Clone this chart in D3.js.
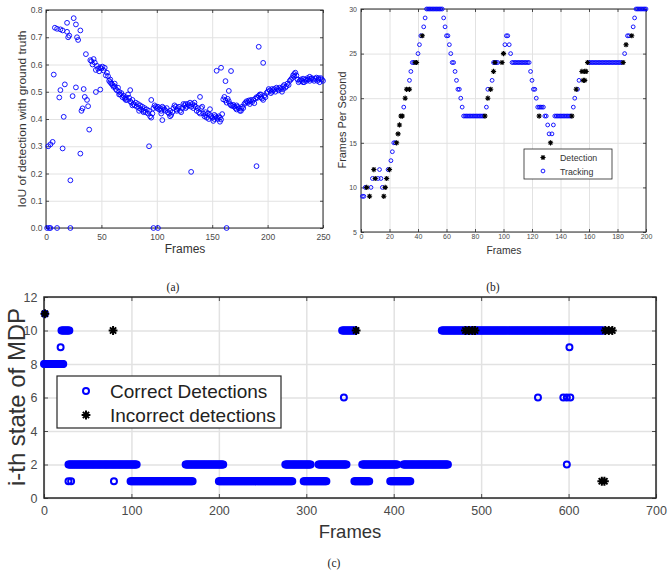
<!DOCTYPE html>
<html>
<head>
<meta charset="utf-8">
<script src="https://cdn.jsdelivr.net/npm/d3@7"></script>
<style>
  body { margin: 0; background: #fff; }
</style>
</head>
<body>
<svg id="fig" width="668" height="572"></svg>
<script>
// ---- (a) IoU of detection with ground truth ----
var iouTicksX = [0, 50, 100, 150, 200, 250];
var iouTicksY = [0, 0.1, 0.2, 0.3, 0.4, 0.5, 0.6, 0.7, 0.8];
var iouTrackStart = 40; // first frame of the main track
var iouTrack = [
  .616,.612,.600,.620,.607,.580,.595,.585,.575,.590,
  .585,.592,.578,.588,.560,.570,.557,.540,.535,.530,
  .525,.518,.530,.510,.505,.515,.500,.490,.495,.480,
  .485,.475,.480,.470,.490,.478,.465,.460,.470,.455,
  .450,.460,.445,.455,.440,.450,.435,.445,.430,.440,
  .425,.435,.420,.430,.410,.405,.420,.440,.450,.445,
  .440,.445,.435,.440,.430,.445,.440,.435,.430,.440,
  .425,.420,.410,.415,.425,.440,.450,.445,.435,.440,
  .445,.430,.425,.440,.455,.450,.440,.445,.455,.450,
  .460,.445,.455,.440,.450,.445,.430,.440,.425,.420,
  .440,.445,.420,.410,.415,.405,.420,.400,.415,.410,
  .405,.393,.400,.410,.405,.400,.410,.405,.398,.418,
  .472,.481,.468,.460,.474,.465,.455,.450,.448,.452,
  .445,.440,.435,.445,.440,.430,.438,.445,.440,.455,
  .460,.465,.460,.468,.465,.470,.462,.470,.458,.475,
  .480,.478,.485,.490,.480,.475,.470,.485,.480,.495,
  .500,.510,.505,.495,.510,.505,.510,.500,.515,.510,
  .505,.515,.510,.500,.520,.525,.515,.520,.530,.525,
  .540,.545,.550,.560,.565,.570,.560,.545,.535,.540,
  .545,.540,.548,.535,.545,.540,.550,.545,.540,.548,
  .550,.545,.540,.548,.552,.540,.545,.535,.550,.545,
  .540
];
// [frame, iou] points off the main track
var iouOther = [
  [1,0],[3,0],[4,0],[10,0],[22,0],[97,0],[101,0],[163,0],
  [2,.30],[4,.307],[6,.316],[7,.563],[8,.735],[10,.731],[13,.729],[15,.725],
  [12,.479],[13,.506],[16,.408],[15,.292],[17,.527],[19,.753],[19,.72],[20,.70],
  [21,.706],[22,.175],[24,.484],[25,.77],[27,.747],[28,.70],[29,.69],[31,.725],
  [27,.516],[31,.273],[32,.43],[33,.439],[34,.51],[35,.481],[37,.47],[38,.447],
  [39,.361],[36,.638],[45,.499],[49,.508],[76,.506],[93,.30],[95,.47],[105,.396],
  [131,.206],[139,.481],[148,.436],[154,.577],[158,.588],[162,.539],[165,.503],
  [167,.576],[190,.227],[192,.665],[196,.606],
  [58,.545],[62,.52],[66,.49],[72,.47],[78,.45],[84,.43],[88,.425],[104,.42],
  [112,.43],[118,.43],[126,.455],[134,.46],[144,.425],[152,.415],[157,.39],
  [172,.45],[176,.43],[184,.455],[194,.49],[204,.50],[214,.51],[224,.555],
  [232,.535],[238,.555],[246,.55]
];

// ---- (b) Frames per second ----
var fpsTicksX = [0, 20, 40, 60, 80, 100, 120, 140, 160, 180, 200];
var fpsTicksY = [5, 10, 15, 20, 25, 30];
// solid runs of tracking points: [firstFrame, lastFrame, fps]
var trackRuns = [[46,57,30],[72,86,18],[106,118,24],[124,128,19],[136,147,18],[160,183,24],[193,200,30]];
var trackPoints = [
  [1,9],[2,9],[3,10],[7,10],[8,11],[12,11],[13,12],[14,11],[15,10],[19,12],[21,13],
  [22,14],[23,15],[24,15],[30,19],[34,22],[35,23],[36,24],[37,24],[40,25],[41,26],
  [42,27],[44,28],[45,29],[58,29],[59,28],[60,27],[61,27],[62,26],[63,25],[64,24],
  [65,24],[66,23],[67,22],[68,21],[69,21],[70,20],[71,19],[88,19],[89,21],[92,22],
  [93,24],[94,24],[95,24],[96,24],[101,26],[102,27],[103,27],[104,26],[105,25],
  [119,23],[120,22],[121,21],[122,21],[123,20],[129,18],[130,18],[131,17],[132,16],
  [134,16],[135,17],[149,19],[150,20],[152,21],[153,22],[185,25],[187,27],[188,27],
  [191,28],[192,29]
];
var detPoints = [
  [4,10],[6,9],[9,12],[10,11],[16,9],[17,10],[18,11],[20,12],[25,15],[26,16],[27,17],
  [28,18],[29,18],[31,20],[32,21],[34,21],[38,24],[39,24],[43,27],[87,18],[89,20],
  [91,21],[93,23],[94,24],[99,24],[100,25],[125,18],[133,15],[148,18],[151,21],
  [155,23],[156,22],[157,22],[157,23],[158,23],[159,24],[184,24],[186,26],[190,27]
];

// ---- (c) i-th state of MDP ----
var mdpTicksX = [0, 100, 200, 300, 400, 500, 600, 700];
var mdpTicksY = [0, 2, 4, 6, 8, 10, 12];
// solid runs of correct detections: [firstFrame, lastFrame, state]
var correctRuns = [
  [0,22,8],[20,29,10],[28,106,2],[99,170,1],[162,205,2],[200,284,1],[276,305,2],
  [297,323,1],[314,346,2],[341,356,10],[355,372,1],[364,404,2],[396,419,1],
  [411,462,2],[455,640,10]
];
var correctPoints = [[1,11],[19,9],[28,1],[31,1],[80,1],[343,6],[565,6],[594,6],[598,6],[602,6],[601,9],[598,2]];
var incorrectPoints = [[1,11],[79,10],[357,10],[482,10],[486,10],[490,10],[493,10],[638,1],[641,1],[642,10],[646,10],[650,10]];

var svg = d3.select("#fig");
var FONT = "'Liberation Sans', Arial, Helvetica, sans-serif";

function expandRuns(runs) {
  var pts = [];
  runs.forEach(function(r) {
    d3.range(r[0], r[1] + 1).forEach(function(f) { pts.push([f, r[2]]); });
  });
  return pts;
}

function asterisk(s) {
  var k = s * 0.707;
  return "M" + (-s) + ",0L" + s + ",0M0," + (-s) + "L0," + s +
    "M" + (-k) + "," + (-k) + "L" + k + "," + k + "M" + (-k) + "," + k + "L" + k + "," + (-k);
}

function drawAxes(p) {
  var x0 = p.x.range()[0], x1 = p.x.range()[1];
  var y0 = p.y.range()[0], y1 = p.y.range()[1];
  var w = x1 - x0, h = y0 - y1;

  // grid
  var grid = svg.append("g");
  grid.append("g").attr("transform", `translate(0,${y0})`)
    .call(d3.axisBottom(p.x).tickValues(p.xTicks).tickSize(-h).tickFormat(""));
  grid.append("g").attr("transform", `translate(${x0},0)`)
    .call(d3.axisLeft(p.y).tickValues(p.yTicks).tickSize(-w).tickFormat(""));
  grid.selectAll(".domain").remove();
  grid.selectAll("line").attr("stroke", "#e2e2e2").attr("stroke-width", p.gridW);

  // ticks on all four sides, pointing inward
  var t = svg.append("g");
  t.append("g").attr("transform", `translate(0,${y0})`)
    .call(d3.axisBottom(p.x).tickValues(p.xTicks).tickSizeInner(-p.tick).tickSizeOuter(0).tickPadding(p.xPad));
  t.append("g").attr("transform", `translate(0,${y1})`)
    .call(d3.axisTop(p.x).tickValues(p.xTicks).tickSizeInner(-p.tick).tickSizeOuter(0).tickFormat(""));
  t.append("g").attr("transform", `translate(${x0},0)`)
    .call(d3.axisLeft(p.y).tickValues(p.yTicks).tickSizeInner(-p.tick).tickSizeOuter(0).tickPadding(p.yPad));
  t.append("g").attr("transform", `translate(${x1},0)`)
    .call(d3.axisRight(p.y).tickValues(p.yTicks).tickSizeInner(-p.tick).tickSizeOuter(0).tickFormat(""));
  t.selectAll(".domain").remove();
  t.selectAll("line").attr("stroke", "#262626").attr("stroke-width", 0.8);
  t.selectAll("text").attr("font-family", FONT).attr("font-size", p.tickFont).attr("fill", "#4a4a4a");
  t.selectAll("g").attr("font-family", null).attr("font-size", null);

  svg.append("rect")
    .attr("x", x0).attr("y", y1).attr("width", w).attr("height", h)
    .attr("fill", "none").attr("stroke", "#262626").attr("stroke-width", p.boxW);
}

function label(txt, x, y, size, rot, len) {
  var el = svg.append("text")
    .attr("transform", `translate(${x},${y})` + (rot ? " rotate(-90)" : ""))
    .attr("text-anchor", "middle")
    .attr("font-family", FONT).attr("font-size", size).attr("fill", "#333")
    .text(txt);
  if (len) el.attr("textLength", len).attr("lengthAdjust", "spacingAndGlyphs");
  return el;
}

function caption(txt, x, y) {
  svg.append("text").attr("x", x).attr("y", y).attr("text-anchor", "middle")
    .attr("font-family", "'Liberation Serif', 'Times New Roman', serif")
    .attr("font-size", 11.5).attr("fill", "#222").text(txt);
}

// ---------- panel (a) ----------
var xa = d3.scaleLinear().domain([0, 250]).range([46, 323]);
var ya = d3.scaleLinear().domain([0, 0.8]).range([228, 10]);
drawAxes({ x: xa, y: ya, xTicks: iouTicksX, yTicks: iouTicksY, tick: 3, xPad: 6, yPad: 3.5,
  tickFont: 8.5, gridW: 1, boxW: 1 });

var iouPts = iouTrack.map(function(v, i) { return [iouTrackStart + i, v]; }).concat(iouOther);
svg.append("g").selectAll("circle").data(iouPts).join("circle")
  .attr("cx", d => xa(d[0])).attr("cy", d => ya(d[1])).attr("r", 2.4)
  .attr("fill", "none").attr("stroke", "#0000ff").attr("stroke-width", 0.9);

label("Frames", 185, 253, 12);
label("IoU of detection with ground truth", 26, 119, 11, true, 177);
caption("(a)", 173, 291);

// ---------- panel (b) ----------
var xb = d3.scaleLinear().domain([0, 200]).range([361, 646]);
var yb = d3.scaleLinear().domain([5, 30]).range([232, 9]);
drawAxes({ x: xb, y: yb, xTicks: fpsTicksX, yTicks: fpsTicksY, tick: 3, xPad: 1.8, yPad: 4,
  tickFont: 7, gridW: 1, boxW: 1 });

var trackAll = expandRuns(trackRuns).concat(trackPoints);
svg.append("g").selectAll("circle").data(trackAll).join("circle")
  .attr("cx", d => xb(d[0])).attr("cy", d => yb(d[1])).attr("r", 1.9)
  .attr("fill", "none").attr("stroke", "#0000ff").attr("stroke-width", 0.9);
svg.append("g").selectAll("path").data(detPoints).join("path")
  .attr("transform", d => `translate(${xb(d[0])},${yb(d[1])})`)
  .attr("d", asterisk(2.6)).attr("stroke", "#000").attr("stroke-width", 1.1).attr("fill", "none");

// legend (b)
svg.append("rect").attr("x", 524).attr("y", 149).attr("width", 88).attr("height", 30)
  .attr("fill", "#fff").attr("stroke", "#262626").attr("stroke-width", 0.8);
svg.append("path").attr("transform", "translate(543,157.5)").attr("d", asterisk(2.6))
  .attr("stroke", "#000").attr("stroke-width", 1.1);
svg.append("circle").attr("cx", 543).attr("cy", 171).attr("r", 1.9)
  .attr("fill", "none").attr("stroke", "#0000ff").attr("stroke-width", 0.9);
svg.append("text").attr("x", 560).attr("y", 160.5).attr("font-family", FONT).attr("font-size", 8.8)
  .attr("fill", "#333").text("Detection");
svg.append("text").attr("x", 560).attr("y", 174.5).attr("font-family", FONT).attr("font-size", 8.8)
  .attr("fill", "#333").text("Tracking");

label("Frames", 504, 254, 10.3);
label("Frames Per Second", 346, 120, 10.5, true, 97);
caption("(b)", 493, 291);

// ---------- panel (c) ----------
var xc = d3.scaleLinear().domain([0, 700]).range([44, 656]);
var yc = d3.scaleLinear().domain([0, 12]).range([498, 297]);
drawAxes({ x: xc, y: yc, xTicks: mdpTicksX, yTicks: mdpTicksY, tick: 4, xPad: 8.5, yPad: 6.5,
  tickFont: 12.5, gridW: 1.5, boxW: 1.5 });

var correctAll = expandRuns(correctRuns).concat(correctPoints);
svg.append("g").selectAll("circle").data(correctAll).join("circle")
  .attr("cx", d => xc(d[0])).attr("cy", d => yc(d[1])).attr("r", 3)
  .attr("fill", "none").attr("stroke", "#0000ff").attr("stroke-width", 2);
svg.append("g").selectAll("path").data(incorrectPoints).join("path")
  .attr("transform", d => `translate(${xc(d[0])},${yc(d[1])})`)
  .attr("d", asterisk(4.4)).attr("stroke", "#000").attr("stroke-width", 2).attr("fill", "none");

// legend (c)
svg.append("rect").attr("x", 57).attr("y", 376).attr("width", 224).attr("height", 52)
  .attr("fill", "#fff").attr("stroke", "#262626").attr("stroke-width", 1.2);
svg.append("circle").attr("cx", 86).attr("cy", 391).attr("r", 3)
  .attr("fill", "none").attr("stroke", "#0000ff").attr("stroke-width", 2);
svg.append("path").attr("transform", "translate(86,415)").attr("d", asterisk(4.4))
  .attr("stroke", "#000").attr("stroke-width", 2);
svg.append("text").attr("x", 110).attr("y", 398).attr("font-family", FONT).attr("font-size", 19)
  .attr("fill", "#222").text("Correct Detections");
svg.append("text").attr("x", 110).attr("y", 422).attr("font-family", FONT).attr("font-size", 19)
  .attr("fill", "#222").text("Incorrect detections");

label("Frames", 350, 538, 18.5);
label("i-th state of MDP", 25, 397, 24, true, 178);
caption("(c)", 334, 567);
</script>
</body>
</html>
